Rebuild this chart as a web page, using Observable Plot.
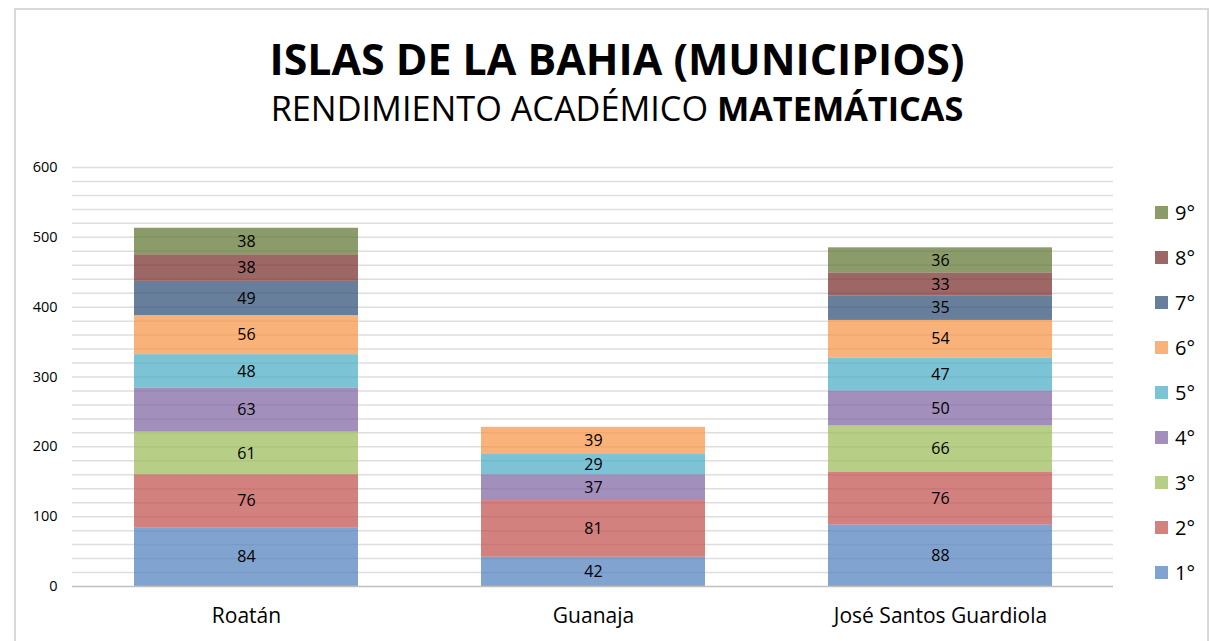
<!DOCTYPE html>
<html><head><meta charset="utf-8">
<script src="https://cdn.jsdelivr.net/npm/d3@7"></script>
<script src="https://cdn.jsdelivr.net/npm/@observablehq/plot@0.6"></script>
<style>
body{margin:0;background:#fff;font-family:"Open Sans",sans-serif;}
#wrap{position:relative;width:1211px;height:641px;overflow:hidden;background:#fff}
#border{position:absolute;left:14px;top:8px;width:1195px;height:660px;border:2px solid #d9d9d9;box-sizing:border-box}
.ttl{position:absolute;left:0;width:1234px;text-align:center;white-space:nowrap;color:#000;line-height:1}
.ttl span{display:inline-block}
#title{top:38px;font-weight:bold;font-size:36px}
#subtitle{top:91px;font-size:30px;font-weight:normal}
#chart{position:absolute;left:0;top:150px}
#legend{position:absolute;left:1155px;top:0}
.li{position:absolute;left:0;height:20px;display:flex;align-items:center;white-space:nowrap;font-size:20px;color:#000}
.sw{width:13px;height:13px;margin-right:7px;flex:none}
</style></head>
<body>
<div id="wrap">
  <div id="border"></div>
  <div id="title" class="ttl"><span id="t1">ISLAS DE LA BAHIA (MUNICIPIOS)</span></div>
  <div id="subtitle" class="ttl"><span id="t2">RENDIMIENTO ACADÉMICO <b>MATEMÁTICAS</b></span></div>
  <div id="chart"></div>
  <div id="legend"></div>
</div>
<script>
const municipios = ["Roatán", "Guanaja", "José Santos Guardiola"];
const grados = ["1°", "2°", "3°", "4°", "5°", "6°", "7°", "8°", "9°"];
const g1 = [84, 42, 88];
const g2 = [76, 81, 76];
const g3 = [61, 0, 66];
const g4 = [63, 37, 50];
const g5 = [48, 29, 47];
const g6 = [56, 39, 54];
const g7 = [49, 0, 35];
const g8 = [38, 0, 33];
const g9 = [38, 0, 36];
const yTicks = [0, 100, 200, 300, 400, 500, 600];
const colores = ["#4F81BD", "#C0504D", "#9BBB59", "#8064A2", "#4BACC6", "#F79646", "#2C4D75", "#772C2A", "#5F7530"];

const series = [g1, g2, g3, g4, g5, g6, g7, g8, g9];
const data = [];
series.forEach((vals, i) => vals.forEach((v, j) => {
  if (v > 0) data.push({municipio: municipios[j], grado: grados[i], valor: v});
}));

const font = "'Open Sans', sans-serif";
const chart = Plot.plot({
  width: 1211, height: 491,
  marginLeft: 72, marginRight: 98, marginTop: 17, marginBottom: 55,
  style: {fontFamily: font, background: "transparent", overflow: "visible"},
  x: {domain: municipios, paddingInner: 0.355, paddingOuter: 0.176, label: null},
  y: {domain: [0, 600], label: null},
  color: {domain: grados, range: colores},
  marks: [
    Plot.ruleY(d3.range(20, 601, 20), {stroke: "#dedede", strokeWidth: 1.5}),
    Plot.barY(data, {x: "municipio", y: "valor", fill: "grado", fillOpacity: 0.72}),
    Plot.text(data, Plot.stackY({x: "municipio", y: "valor", z: "grado", text: d => String(d.valor), fontSize: 16, fill: "#000"})),
    Plot.ruleY([0], {stroke: "#bfbfbf", strokeWidth: 1.5}),
    Plot.axisY({ticks: yTicks, tickSize: 0, tickPadding: 15, fontSize: 14.5, color: "#000", label: null}),
    Plot.axisX({tickSize: 0, tickPadding: 22, fontSize: 21, color: "#000", label: null})
  ]
});
document.getElementById("chart").appendChild(chart);
d3.select(chart).selectAll('g[aria-label="y-axis tick label"]').attr("font-size", 14.5);

// legend
const leg = document.getElementById("legend");
grados.slice().reverse().forEach((g, k) => {
  const i = grados.indexOf(g);
  const div = document.createElement("div");
  div.className = "li";
  div.style.top = (212 - 10 + k * 45.1) + "px";
  const sw = document.createElement("div");
  sw.className = "sw";
  sw.style.background = colores[i];
  sw.style.opacity = 0.72;
  div.appendChild(sw);
  div.appendChild(document.createTextNode(g));
  leg.appendChild(div);
});

// fit title widths
function fit(id, target) {
  const el = document.getElementById(id);
  const w = el.getBoundingClientRect().width;
  const fs = parseFloat(getComputedStyle(el.parentNode).fontSize);
  el.parentNode.style.fontSize = (fs * target / w) + "px";
}
fit("t1", 695);
fit("t2", 693);
</script>
</body></html>
